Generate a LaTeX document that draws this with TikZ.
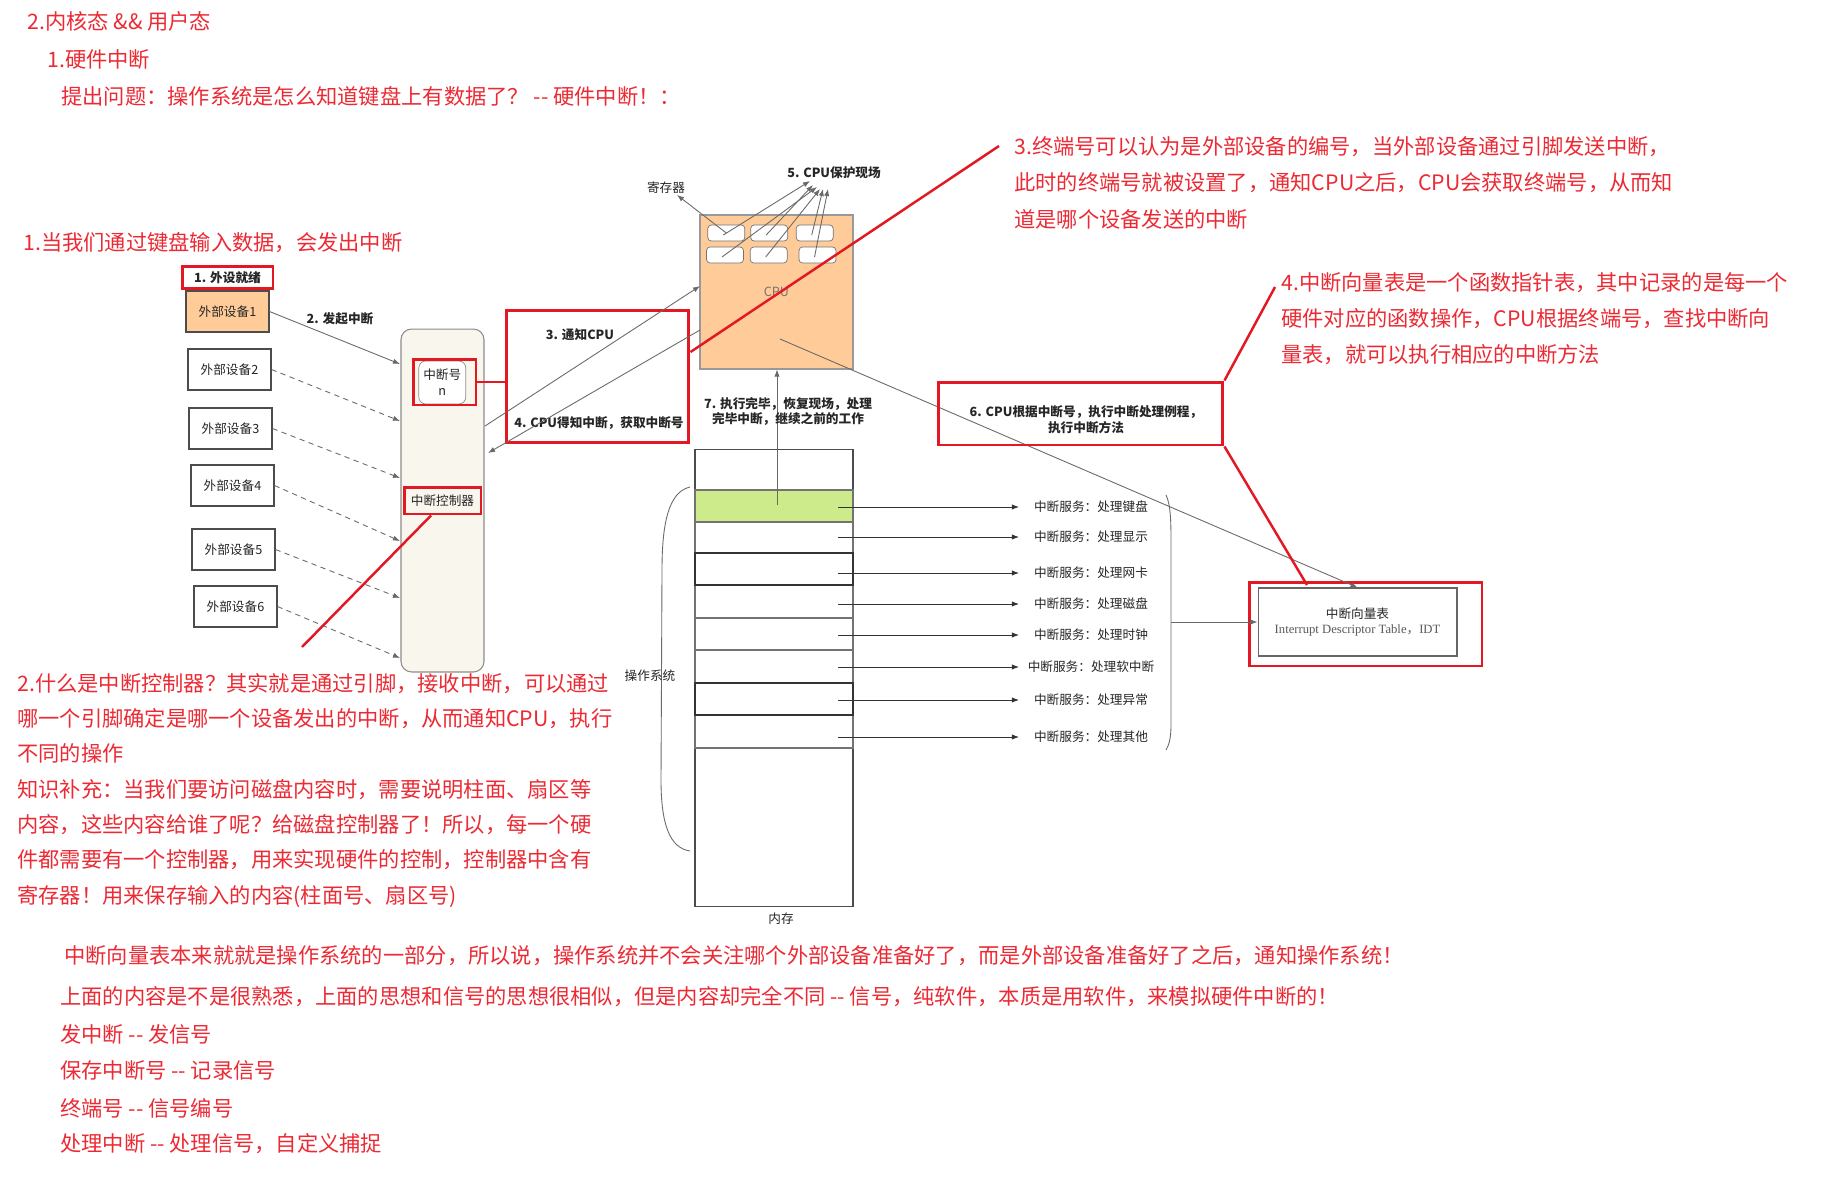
\documentclass[tikz,border=0pt]{standalone}
\usepackage{fontspec}
\setmainfont{Noto Sans CJK SC}
\newfontfamily\serifen{Liberation Serif}
\usepackage{xcolor}
\usetikzlibrary{arrows.meta,calc}

\definecolor{notered}{RGB}{236,42,52}
\definecolor{boxred}{RGB}{226,24,34}
\definecolor{cpuorange}{RGB}{255,204,153}
\definecolor{kbgreen}{RGB}{205,235,139}
\definecolor{ctrlbg}{RGB}{248,246,237}
\definecolor{linegray}{RGB}{105,105,105}

\begin{document}
\begin{tikzpicture}[>={Latex[length=4pt,width=3pt]}, x=0.02cm, y=-0.02cm,
  note/.style={text=notered, font=\fontsize{12.1}{20.5}\selectfont, anchor=west, inner sep=0pt, align=left},
  lbl/.style={font=\fontsize{7.2}{9}\selectfont, inner sep=0pt, text=black!85},
  boldlbl/.style={lbl, font=\fontsize{7.2}{9}\selectfont\bfseries},
  dev/.style={draw=black!70, line width=0.6pt, minimum width=1.66cm, minimum height=0.82cm, lbl},
  redbox/.style={draw=boxred, line width=1.7pt},
  redline/.style={boxred, line width=1.4pt},
  wire/.style={linegray, line width=0.5pt},
  reg/.style={draw=black!55, fill=white, rounded corners=2pt, minimum width=0.74cm, minimum height=0.32cm, inner sep=0pt},
  row/.style={draw=black!55, line width=0.6pt}]
  \path[use as bounding box, fill=white] (0,0) rectangle (1838,1193);

  \node[note] (title) at (27,21) {2.内核态 \&\& 用户态};
  \node[note] (hwint) at (47,59) {1.硬件中断};
  \node[note] (question) at (61,96) {提出问题：操作系统是怎么知道键盘上有数据了？ -{}- 硬件中断！：};
  \node[note] (note1) at (23,243) {1.当我们通过键盘输入数据，会发出中断};

  \node[redbox, boldlbl, minimum width=1.82cm, minimum height=0.43cm] (ready) at (227.5,277.5) {1. 外设就绪};
  \node[dev, fill=cpuorange] (dev1) at (227.5,311.5) {外部设备1};
  \foreach \i/\xx/\yy in {2/229.5/369.5, 3/230.5/428.5, 4/232.5/485.5, 5/233.5/549.5, 6/235.5/606.5}
    \node[dev] (dev\i) at (\xx,\yy) {外部设备\i};

  \node[draw=black!45, fill=ctrlbg, rounded corners=6pt, minimum width=1.66cm, minimum height=6.86cm, line width=0.6pt] (ctrl) at (442.5,500.5) {};
  \node[draw=black!45, fill=white, rounded corners=4pt, minimum width=0.94cm, minimum height=0.86cm, lbl, align=center] (irqno) at (442.3,382.5) {中断号\\n};
  \node[redbox, minimum width=1.26cm, minimum height=0.92cm] (irqred) at (444.5,382) {};
  \node[redbox, lbl, minimum width=1.54cm, minimum height=0.54cm] (ctrlname) at (442.5,500.5) {中断控制器};

  \node[boldlbl] (raise) at (340,319) {2. 发起中断};
  \coordinate (in1) at (400,364);
  \draw[wire,->] (dev1.east) -- (in1);
  \foreach \i/\yy in {2/421, 3/478, 4/541, 5/598, 6/658} {
    \coordinate (in\i) at (400,\yy);
    \draw[wire, dash pattern=on 3pt off 2.5pt, ->] (dev\i.east) -- (in\i);
  }

  \node[redbox, minimum width=3.66cm, minimum height=2.66cm] (notify) at (597.5,376.5) {};
  \draw[redbox] (irqred.east) -- (notify.west |- irqred.east);
  \node[boldlbl] (notifylbl) at (580,335) {3. 通知CPU};
  \node[boldlbl] (getlbl) at (599,423) {4. CPU得知中断，获取中断号};

  \node[draw=black!40, fill=cpuorange, minimum width=3.06cm, minimum height=3.08cm, line width=0.6pt, lbl, text=black!55] (cpu) at (776.5,292) {CPU};
  \foreach \n/\xx/\yy in {r1/726.3/233, r2/769.2/233, r3/814.7/233, r4/725/255, r5/768.7/255, r6/817.5/255}
    \node[reg] (\n) at (\xx,\yy) {};
  \node[lbl] (reglbl) at (666,188) {寄存器};
  \node[boldlbl] (save) at (834,173) {5. CPU保护现场};
  \coordinate (regtip) at (677,195);
  \draw[wire,->] (r1.center) -- (regtip);
  \foreach \n/\tx/\ty [count=\k] in {r1/810/181, r2/813/185, r4/817/187, r5/820/189, r3/823/189, r6/828/189} {
    \coordinate (sv\k) at (\tx,\ty);
    \draw[wire,->] ($(\n.center)+(-3,2)$) -- (sv\k);
  }

  \coordinate (ctrlout) at (485,426);
  \coordinate (cpuin) at (700,286);
  \coordinate (cpuout) at (700,330);
  \coordinate (ctrlin) at (488,453);
  \draw[wire,->] (ctrlout) -- (cpuin);
  \draw[wire,->] (cpuout) -- (ctrlin);

  \node[draw=black!70, minimum width=3.16cm, minimum height=9.15cm, line width=0.6pt] (mem) at (774,678) {};
  \node[lbl] (memlbl) at (781,919) {内存};
  \draw[row, fill=kbgreen] (695,490) rectangle (853,522);
  \foreach \a/\b in {522/553, 585/618, 618/650, 650/683, 715/748}
    \draw[row] (695,\a) rectangle (853,\b);
  \foreach \a/\b in {553/585, 683/715}
    \draw[row, draw=black!80] (695,\a) rectangle (853,\b);

  \foreach \yy/\txt [count=\k] in {507/处理键盘, 537/处理显示, 573/处理网卡, 604/处理磁盘, 635/处理时钟, 667/处理软中断, 700/处理异常, 737/处理其他} {
    \coordinate (svc\k) at (838,\yy);
    \coordinate (isrin\k) at (1019,\yy);
    \node[lbl] (isr\k) at (1091,\yy) {中断服务：\txt};
    \draw[black!80, line width=0.5pt, ->] (svc\k) -- (isrin\k);
  }

  \coordinate (kbrow) at (777,505);
  \draw[wire,->] (kbrow) -- (kbrow |- cpu.south);
  \node[boldlbl, align=center] (resume) at (788,411.5) {7. 执行完毕，恢复现场，处理\\完毕中断，继续之前的工作};

  \draw[wire] (690,487) .. controls (668,492) and (662,525) .. (662,570) -- (661,780) .. controls (661,825) and (670,848) .. (690,851);
  \node[lbl] (oslbl) at (650,676) {操作系统};
  \draw[wire] (1166,495) .. controls (1171,505) and (1171,525) .. (1171,545) -- (1171,725) .. controls (1171,738) and (1169,745) .. (1166,750);
  \coordinate (brmid) at (1171,622);

  \node[draw=black!60, minimum width=3.98cm, minimum height=1.36cm, line width=0.6pt, lbl, align=center] (idt) at (1357.5,622) {中断向量表\\{\color{black!65}\serifen Interrupt Descriptor Table}{\color{black!65}，\serifen IDT}};
  \node[redbox, minimum width=4.66cm, minimum height=1.68cm] (idtred) at (1365.5,624) {};
  \draw[wire,->] (brmid) -- (idt.west);
  \coordinate (cpuexit) at (780,339);
  \draw[wire,->] (cpuexit) -- (idt.north);

  \node[redbox, minimum width=5.7cm, minimum height=1.26cm] (isrred) at (1080.5,413.5) {};
  \node[boldlbl, align=center] (isrlbl) at (1086,420) {6. CPU根据中断号，执行中断处理例程，\\执行中断方法};

  \node[note, anchor=north west, font=\fontsize{12.1}{20.7}\selectfont] (note3) at (1014,136) {3.终端号可以认为是外部设备的编号，当外部设备通过引脚发送中断，\\此时的终端号就被设置了，通知CPU之后，CPU会获取终端号，从而知\\道是哪个设备发送的中断};
  \node[note, anchor=north west, font=\fontsize{12.1}{20.4}\selectfont] (note4) at (1281,272) {4.中断向量表是一个函数指针表，其中记录的是每一个\\硬件对应的函数操作，CPU根据终端号，查找中断向\\量表，就可以执行相应的中断方法};
  \node[note, anchor=north west, font=\fontsize{12.1}{20.1}\selectfont] (note2) at (17,673) {2.什么是中断控制器？其实就是通过引脚，接收中断，可以通过\\哪一个引脚确定是哪一个设备发出的中断，从而通知CPU，执行\\不同的操作\\知识补充：当我们要访问磁盘内容时，需要说明柱面、扇区等\\内容，这些内容给谁了呢？给磁盘控制器了！所以，每一个硬\\件都需要有一个控制器，用来实现硬件的控制，控制器中含有\\寄存器！用来保存输入的内容(柱面号、扇区号)};

  \coordinate (note3tip) at (999,146);
  \coordinate (note4tip) at (1275,287);
  \coordinate (note2tip) at (302,647);
  \coordinate (idthook) at (1307,585);
  \draw[redline] (note3tip) -- (notify.east |- 0,352);
  \draw[redline] (isrred.north east) -- (note4tip);
  \draw[redline] (isrred.south east) -- (idthook);
  \draw[redline] (ctrlname.south -| 431,0) -- (note2tip);

  \node[note] (tail1) at (64,956) {中断向量表本来就就是操作系统的一部分，所以说，操作系统并不会关注哪个外部设备准备好了，而是外部设备准备好了之后，通知操作系统！};
  \node[note] (tail2) at (60,997) {上面的内容是不是很熟悉，上面的思想和信号的思想很相似，但是内容却完全不同 -{}- 信号，纯软件，本质是用软件，来模拟硬件中断的！};
  \node[note] (tail3) at (60,1034) {发中断 -{}- 发信号};
  \node[note] (tail4) at (60,1070.5) {保存中断号 -{}- 记录信号};
  \node[note] (tail5) at (60,1108) {终端号 -{}- 信号编号};
  \node[note] (tail6) at (60,1144) {处理中断 -{}- 处理信号，自定义捕捉};
\end{tikzpicture}
\end{document}
